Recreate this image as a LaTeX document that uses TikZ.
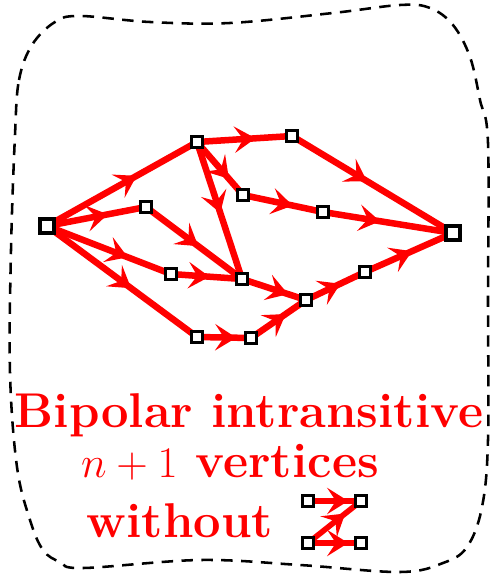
\documentclass[tikz,border=0pt]{standalone}
\usetikzlibrary{arrows.meta,decorations.markings}
\begin{document}
\begin{tikzpicture}[x=0.02cm,y=-0.02cm,
  v/.style={draw=black,fill=white,line width=1.8pt,minimum size=5.8pt,inner sep=0pt,outer sep=0pt},
  bigv/.style={draw=black,fill=white,line width=2.2pt,minimum size=7.8pt,inner sep=0pt,outer sep=0pt},
  e/.style={draw=red,line width=3.7pt},
  arr/.style={postaction={decorate},decoration={markings,mark=at position #1 with {\arrow[red]{Stealth[length=12pt,width=15pt,inset=5pt]}}}},
  lbl/.style={text=red,inner sep=0pt,font=\fontsize{27.8}{33}\selectfont\bfseries}]
\useasboundingbox (0,0) rectangle (490,574);
% boundary
\draw[dash pattern=on 6.5pt off 4.8pt,line width=1.45pt] plot[smooth cycle,tension=0.6] coordinates {
 (15,135) (19,80) (32,45) (55,22) (80,16) (150,22) (230,23) (333,13) (400,5) (430,8) (453,25) (470,57) (480,100) (488,143)
 (488,300) (488,440) (482,507) (467,547) (443,563) (400,572) (300,565) (200,560) (83,568) (60,562) (43,550) (30,520) (17,467) (10,373) (11,250)};
% nodes
\node[bigv] (s) at (47,226) {};
\node[bigv] (t) at (453,233) {};
\node[v] (a) at (197,142) {};
\node[v] (b) at (292,136) {};
\node[v] (c) at (146,207) {};
\node[v] (d) at (243,195) {};
\node[v] (ee) at (323,212) {};
\node[v] (f) at (171,274) {};
\node[v] (g) at (242,279) {};
\node[v] (h) at (306,300) {};
\node[v] (i) at (365,272) {};
\node[v] (j) at (197,337) {};
\node[v] (k) at (251,338) {};
% edges
\path[e,arr=0.6] (s) -- (a);
\path[e,arr=0.62] (s) -- (c);
\path[e,arr=0.66] (s) -- (f);
\path[e,arr=0.56] (s) -- (j);
\path[e,arr=0.63] (a) -- (b);
\path[e,arr=0.74] (a) -- (d);
\path[e,arr=0.52] (a) -- (g);
\path[e,arr=0.55] (c) -- (g);
\path[e,arr=0.55] (f) -- (g);
\path[e,arr=0.64] (d) -- (ee);
\path[e,arr=0.44] (ee) -- (t);
\path[e,arr=0.47] (b) -- (t);
\path[e,arr=0.76] (g) -- (h);
\path[e,arr=0.78] (j) -- (k);
\path[e,arr=0.66] (k) -- (h);
\path[e,arr=0.6] (h) -- (i);
\path[e,arr=0.55] (i) -- (t);
% redraw nodes on top
\foreach \n in {a,b,c,d,ee,f,g,h,i,j,k} {\node[v] at (\n) {};}
\foreach \n in {s,t} {\node[bigv] at (\n) {};}
% text
\node[lbl,anchor=base] (l1) at (249,427) {Bipolar intransitive};
\node[lbl,anchor=base] (l2) at (230,477) {$n+1$ vertices};
\node[lbl,anchor=base] (l3) at (180,537) {without};
% small Z graph
\node[v] (z1) at (308,501) {};
\node[v] (z2) at (361,501) {};
\node[v] (z3) at (308,543) {};
\node[v] (z4) at (361,543) {};
\path[e,line width=3.2pt,arr=0.82] (z1) -- (z2);
\path[e,line width=3.2pt,arr=0.75] (z3) -- (z2);
\path[e,line width=3.2pt,arr=0.82] (z3) -- (z4);
\foreach \n in {z1,z2,z3,z4} {\node[v] at (\n) {};}
\end{tikzpicture}
\end{document}
